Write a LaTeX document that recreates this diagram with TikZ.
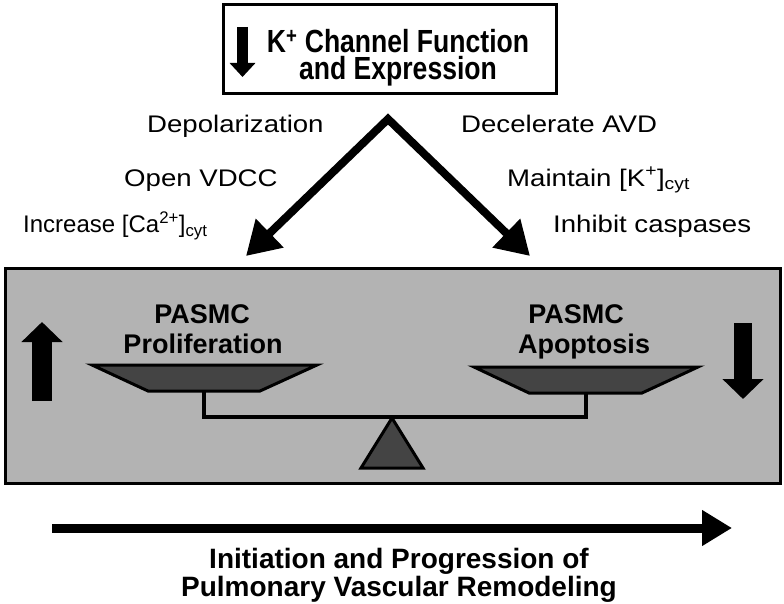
\documentclass[tikz,border=0pt]{standalone}
\usepackage{fontspec}
\setmainfont{Liberation Sans}
\newfontfamily\widesans[FakeStretch=1.15]{Liberation Sans}
\newfontfamily\narrowsans[FakeStretch=0.83]{Liberation Sans}
\usetikzlibrary{arrows.meta}
\definecolor{panelgray}{RGB}{179,179,179}
\definecolor{pandark}{RGB}{68,68,68}
\tikzset{
  plain/.style={inner sep=0, anchor=base west, font=\widesans\fontsize{24}{28}\selectfont},
  headline/.style={inner sep=0, align=center, font=\narrowsans\fontsize{32}{27}\selectfont\bfseries},
  panlabel/.style={inner sep=0, anchor=base, font=\fontsize{27}{30}\selectfont\bfseries},
  fatarrow/.style={line width=#1, -{Triangle[length=20pt,width=40pt]}},
  pan/.style={draw, line width=3pt, fill=pandark, line join=miter}
}

\begin{document}
\begin{tikzpicture}[x=1pt, y=-1pt]
\useasboundingbox (0,0) rectangle (784,604);
% K+ channel box
\node[draw, line width=3pt, minimum width=333pt, minimum height=89pt, inner sep=0] (kbox) at (390,49) {};
\node[headline] (ktext) at (398,58) {K\textsuperscript{+} Channel Function\\and Expression};
\draw[line width=11pt, -{Triangle[length=14pt,width=25pt]}] (242.5,27) -- (242.5,77);

% the two branches
\coordinate (apex) at (388,119);
\coordinate (ltip) at (246,256);
\coordinate (rtip) at (530,256);
\draw[line width=8pt, miter limit=4, {Triangle[length=33pt,width=38pt]}-{Triangle[length=33pt,width=38pt]}] (ltip) -- (apex) -- (rtip);
\node[plain] (depol) at (147,133) {Depolarization};
\node[plain] (vdcc) at (124,186) {Open VDCC};
\node[plain, font=\fontsize{24}{28}\selectfont] (calcium) at (23,233) {Increase [Ca\textsuperscript{2+}]\textsubscript{cyt}};
\node[plain] (avd) at (461,133) {Decelerate AVD};
\node[plain] (potas) at (507,186) {Maintain [K\textsuperscript{+}]\textsubscript{cyt}};
\node[plain] (casp) at (553,233) {Inhibit caspases};

% the balance
\draw[line width=3pt, fill=panelgray] (5,268) rectangle (780,483);
\draw[fatarrow=20pt] (42,401) -- (42,322);
\draw[fatarrow=18pt] (743,323) -- (743,399);
\draw[pan] (92,365) -- (317,365) -- (260,391) -- (148,391) -- cycle;
\draw[pan] (474,367) -- (698,367) -- (642,393) -- (529,393) -- cycle;
\draw[line width=4pt, line join=miter] (204,391) |- (586,417) -- (586,393);
\draw[pan] (392,418) -- (423,468) -- (361,468) -- cycle;
\node[panlabel] (prolifA) at (202,323) {PASMC};
\node[panlabel] (prolifB) at (203,353) {Proliferation};
\node[panlabel] (apopA) at (576,323) {PASMC};
\node[panlabel] (apopB) at (584,353) {Apoptosis};

% time axis
\coordinate (tstart) at (52,528);
\coordinate (tend) at (732,528);
\draw[line width=9pt, -{Triangle[length=30pt,width=34pt]}] (tstart) -- (tend);
\node[panlabel, font=\fontsize{28}{30}\selectfont\bfseries] (remodA) at (399,568) {Initiation and Progression of};
\node[panlabel, font=\fontsize{28}{30}\selectfont\bfseries] (remodB) at (399,596) {Pulmonary Vascular Remodeling};
\end{tikzpicture}
\end{document}
